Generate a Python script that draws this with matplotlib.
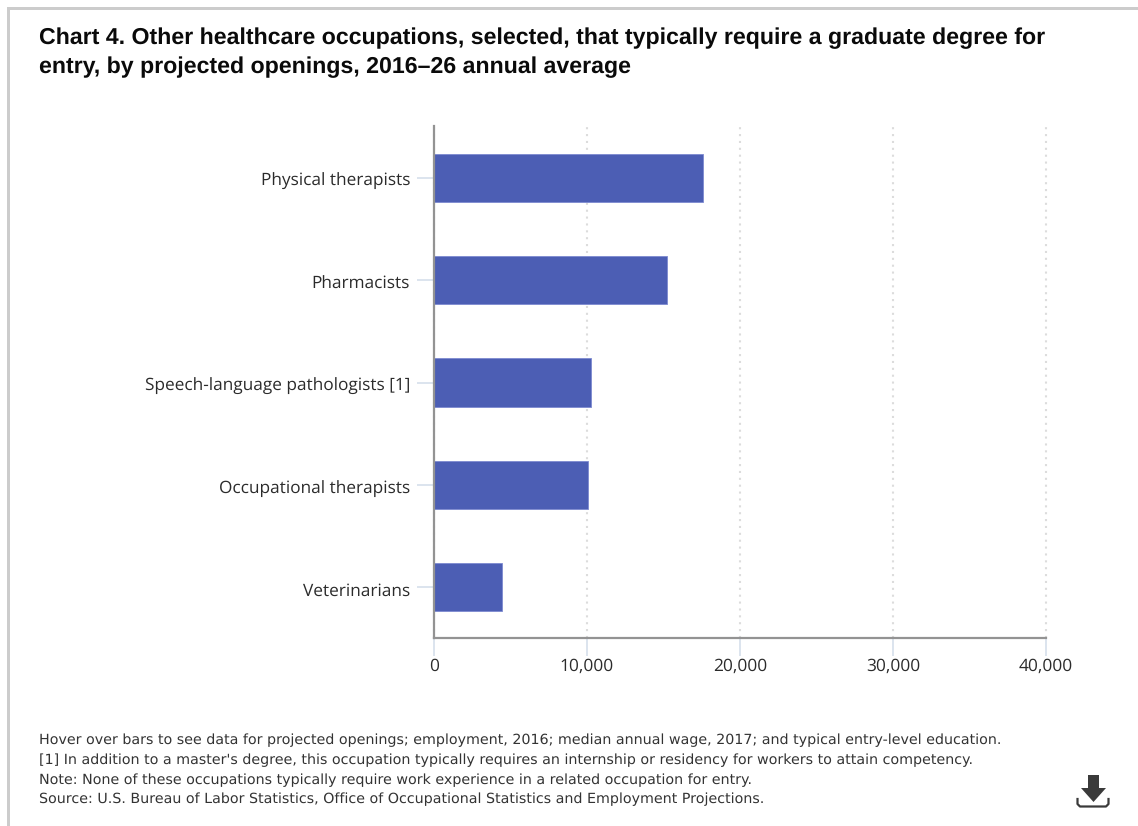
import matplotlib
matplotlib.use("Agg")
import matplotlib.pyplot as plt
from matplotlib.lines import Line2D
from matplotlib.patches import Polygon, Rectangle
from matplotlib.transforms import ScaledTranslation

# --- Data ---
OCCUPATIONS = [
    "Physical therapists",
    "Pharmacists",
    "Speech-language pathologists [1]",
    "Occupational therapists",
    "Veterinarians",
]
OPENINGS = [17600, 15230, 10260, 10060, 4440]
X_TICKS = [0, 10000, 20000, 30000, 40000]
TITLE_LINES = [
    "Chart 4. Other healthcare occupations, selected, that typically require a graduate degree for",
    "entry, by projected openings, 2016\u201326 annual average",
]
NOTES = [
    "Hover over bars to see data for projected openings; employment, 2016; median annual wage, 2017; and typical entry-level education.",
    "[1] In addition to a master's degree, this occupation typically requires an internship or residency for workers to attain competency.",
    "Note: None of these occupations typically require work experience in a related occupation for entry.",
    "Source: U.S. Bureau of Labor Statistics, Office of Occupational Statistics and Employment Projections.",
]

W, H = 1138, 826

# unhinted text so widths scale with the font size
plt.rcParams["text.hinting"] = "none"
plt.rcParams["text.hinting_factor"] = 8


def fx(px):
    return px / W


def fy(py):
    return 1 - py / H


fig = plt.figure(figsize=(W / 100, H / 100), dpi=100, facecolor="white")

# outer page border
fig.add_artist(Rectangle((fx(7), 0), 3 / W, fy(7), transform=fig.transFigure, color="#cccccc", lw=0))
fig.add_artist(Rectangle((fx(7), fy(10)), 1 - fx(7), 3 / H, transform=fig.transFigure, color="#cccccc", lw=0))

# --- Axes ---
ax = fig.add_axes([fx(434), fy(638), (1046 - 434) / W, (638 - 126) / H])
y_pos = list(range(len(OCCUPATIONS)))
ax.barh(y_pos, OPENINGS, height=0.47, color="#4c5eb4", edgecolor="#7d8ad0", linewidth=0.6, zorder=3)
ax.set_ylim(len(OCCUPATIONS) - 0.505, -0.505)
ax.set_xlim(0, 40000)

ax.set_xticks(X_TICKS)
ax.set_xticklabels([f"{v:,}" for v in X_TICKS], fontfamily="Open Sans", fontsize=12.5, color="#2b2b2b")
ax.set_yticks(y_pos)
ax.set_yticklabels(OCCUPATIONS, fontfamily="Open Sans", fontsize=12.4, color="#2b2b2b")
ax.tick_params(axis="x", length=13, width=1.2, color="#d5dfeb", pad=1.5)
ax.tick_params(axis="y", length=12, width=1.2, color="#d5dfeb", pad=5.2)

# labels sit a little under the tick marks
label_shift = ScaledTranslation(0, -1.4 / 72, fig.dpi_scale_trans)
for label in ax.get_yticklabels():
    label.set_transform(label.get_transform() + label_shift)

ax.grid(axis="x", color="#dcdcdc", linestyle=(0, (1, 2.3)), linewidth=1.5, zorder=0)
for line in ax.get_xgridlines():
    line.set_clip_on(False)
ax.set_axisbelow(True)
for side in ["top", "right"]:
    ax.spines[side].set_visible(False)
for side in ["left", "bottom"]:
    ax.spines[side].set_color("#939393")
    ax.spines[side].set_linewidth(1.6)
    ax.spines[side].set_zorder(4)

# --- Text ---
for text, py in zip(TITLE_LINES, [38, 67]):
    fig.text(fx(39), fy(py), text, fontfamily="Liberation Sans", fontweight="bold",
             fontsize=16.68, color="#0a0a0a", va="center", ha="left")
for text, py in zip(NOTES, [740, 760, 780, 799.5]):
    fig.text(fx(39), fy(py), text, fontfamily="DejaVu Sans", fontsize=10.3,
             color="#333333", va="center", ha="left")

# --- Download icon ---
ICON = "#3a3a3a"
arrow = [(1088, 775), (1099, 775), (1099, 788), (1106, 788), (1093.5, 802), (1081, 788), (1088, 788)]
fig.add_artist(Polygon([(fx(x), fy(y)) for x, y in arrow], closed=True,
                       transform=fig.transFigure, color=ICON, lw=0))
tray_x = [1077.5, 1077.5, 1080, 1106, 1108.5, 1108.5]
tray_y = [799, 804, 806.5, 806.5, 804, 799]
fig.add_artist(Line2D([fx(x) for x in tray_x], [fy(y) for y in tray_y],
                      transform=fig.transFigure, color=ICON, lw=1.6))

fig.savefig("out.png", dpi=100)
